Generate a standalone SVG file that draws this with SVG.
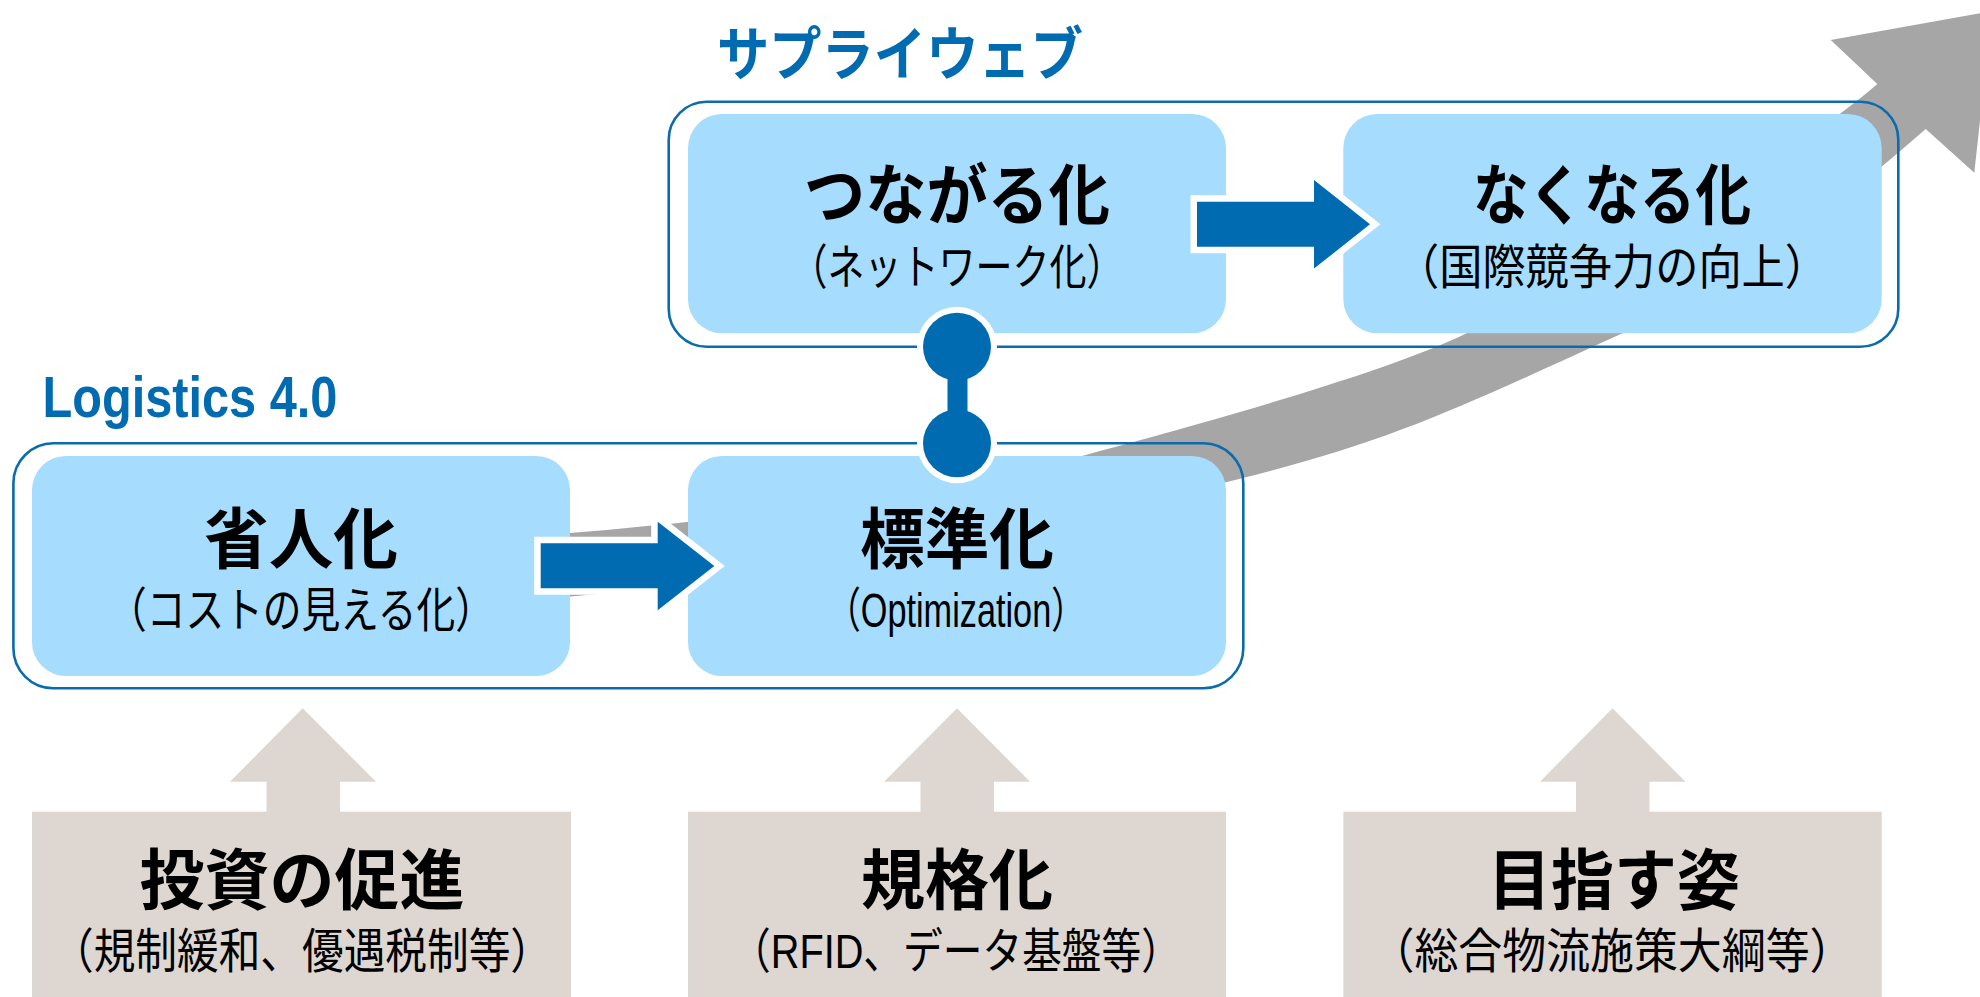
<svg xmlns="http://www.w3.org/2000/svg" width="1980" height="997" viewBox="0 0 1980 997">
  <style>
    .outer{fill:none;stroke:#0A6CAE;stroke-width:2.6}
    .inner{fill:#A6DCFD}
    .base{fill:#DED7D1}
    .blue{fill:#006BB0}
    .barrow{fill:#006BB0;stroke:#FFFFFF;stroke-width:13;stroke-linejoin:miter;paint-order:stroke}
    .title{font-family:"Noto Sans CJK JP",sans-serif;font-weight:700;fill:#006BB0}
    .latin{font-family:"Liberation Sans",sans-serif;font-weight:700;fill:#006BB0}
    .main{font-family:"Liberation Sans","Noto Sans CJK JP",sans-serif;font-weight:700;font-size:66px;fill:#000;text-anchor:middle}
    .sub{font-family:"Liberation Sans","Noto Sans CJK JP",sans-serif;font-weight:400;font-size:48px;fill:#000;text-anchor:middle}
  </style>
  <rect width="1980" height="997" fill="#FFFFFF"/>

  <!-- background trend arrow -->
  <g id="trend-arrow">
    <path fill="#A6A6A6" d="M 450,541 C 750,525 1000,480 1078,457 C 1170,432 1380,376 1467,333 C 1597,269 1794.5,156.6 1877.3,84 L 1830.7,40 L 1992,11 L 1974.3,172.7 L 1925.7,129 C 1843.2,201.6 1743,278 1623,333 C 1463,406 1393,440.5 1243,478 C 1043,528 800,585 450,605 Z"/>
  </g>

  <!-- containers -->
  <g id="group-supply-web">
    <rect class="outer" x="668.7" y="101.7" width="1229.6" height="245" rx="38" ry="38"/>
    <text class="title" x="717" y="74.5" font-size="58" textLength="366" lengthAdjust="spacingAndGlyphs">サプライウェブ</text>
  </g>
  <g id="group-logistics">
    <rect class="outer" x="13.4" y="443.3" width="1229.9" height="245" rx="40" ry="40"/>
    <text class="latin" x="42.4" y="416.7" font-size="58" textLength="295" lengthAdjust="spacingAndGlyphs">Logistics 4.0</text>
  </g>

  <!-- inner nodes -->
  <g id="node-tsunagaru">
    <rect class="inner" x="688" y="114" width="538" height="219.3" rx="34" ry="34"/>
    <text class="main" x="957" y="219" textLength="306" lengthAdjust="spacingAndGlyphs">つながる化</text>
    <text class="sub" x="957" y="284" textLength="333" lengthAdjust="spacingAndGlyphs">（ネットワーク化）</text>
  </g>
  <g id="node-nakunaru">
    <rect class="inner" x="1343.3" y="114" width="538.4" height="219.3" rx="34" ry="34"/>
    <text class="main" x="1612" y="219" textLength="278" lengthAdjust="spacingAndGlyphs">なくなる化</text>
    <text class="sub" x="1612" y="284" textLength="432" lengthAdjust="spacingAndGlyphs">（国際競争力の向上）</text>
  </g>
  <g id="node-shoujin">
    <rect class="inner" x="32" y="456" width="538" height="220" rx="34" ry="34"/>
    <text class="main" x="301" y="563" textLength="194" lengthAdjust="spacingAndGlyphs">省人化</text>
    <text class="sub" x="301" y="627" textLength="386" lengthAdjust="spacingAndGlyphs">（コストの見える化）</text>
  </g>
  <g id="node-hyoujun">
    <rect class="inner" x="688" y="456" width="538" height="220" rx="34" ry="34"/>
    <text class="main" x="957" y="563" textLength="194" lengthAdjust="spacingAndGlyphs">標準化</text>
    <text class="sub" x="956" y="627" textLength="259" lengthAdjust="spacingAndGlyphs">（Optimization）</text>
  </g>

  <!-- bottom foundation nodes -->
  <g id="node-toushi">
    <rect class="base" x="32" y="811.7" width="539" height="190"/>
    <text class="main" x="302" y="904" textLength="325" lengthAdjust="spacingAndGlyphs">投資の促進</text>
    <text class="sub" x="302" y="968" textLength="500" lengthAdjust="spacingAndGlyphs">（規制緩和、優遇税制等）</text>
  </g>
  <g id="node-kikaku">
    <rect class="base" x="688" y="811.7" width="538" height="190"/>
    <text class="main" x="957" y="904" textLength="192" lengthAdjust="spacingAndGlyphs">規格化</text>
    <text class="sub" x="956" y="968" textLength="450" lengthAdjust="spacingAndGlyphs">（RFID、データ基盤等）</text>
  </g>
  <g id="node-mezasu">
    <rect class="base" x="1343.3" y="811.7" width="538.4" height="190"/>
    <text class="main" x="1614" y="904" textLength="252" lengthAdjust="spacingAndGlyphs">目指す姿</text>
    <text class="sub" x="1612" y="968" textLength="483" lengthAdjust="spacingAndGlyphs">（総合物流施策大綱等）</text>
  </g>

  <!-- connectors -->
  <g id="connectors">
    <path class="barrow" d="M 1197,201.8 L 1314,201.8 L 1314,180 L 1370,224.3 L 1314,268.6 L 1314,246.8 L 1197,246.8 Z"/>
    <path class="barrow" d="M 540.7,543.3 L 657.7,543.3 L 657.7,521.7 L 714.3,566 L 657.7,610.3 L 657.7,588.3 L 540.7,588.3 Z"/>
    <g id="link-dumbbell">
      <circle cx="957" cy="346.7" r="40" fill="#FFFFFF"/>
      <circle cx="957" cy="443.3" r="40" fill="#FFFFFF"/>
      <rect class="blue" x="947.5" y="370" width="20" height="50"/>
      <circle class="blue" cx="957" cy="346.7" r="34"/>
      <circle class="blue" cx="957" cy="443.3" r="34"/>
    </g>
    <path class="base" d="M 302.7,708.3 L 376,781.7 L 340,781.7 L 340,812.7 L 266.5,812.7 L 266.5,781.7 L 230,781.7 Z"/>
    <path class="base" d="M 957,708.3 L 1030,781.7 L 994,781.7 L 994,812.7 L 920.5,812.7 L 920.5,781.7 L 884,781.7 Z"/>
    <path class="base" d="M 1612.5,708.3 L 1685.5,781.7 L 1649.5,781.7 L 1649.5,812.7 L 1576,812.7 L 1576,781.7 L 1540,781.7 Z"/>
  </g>
</svg>
